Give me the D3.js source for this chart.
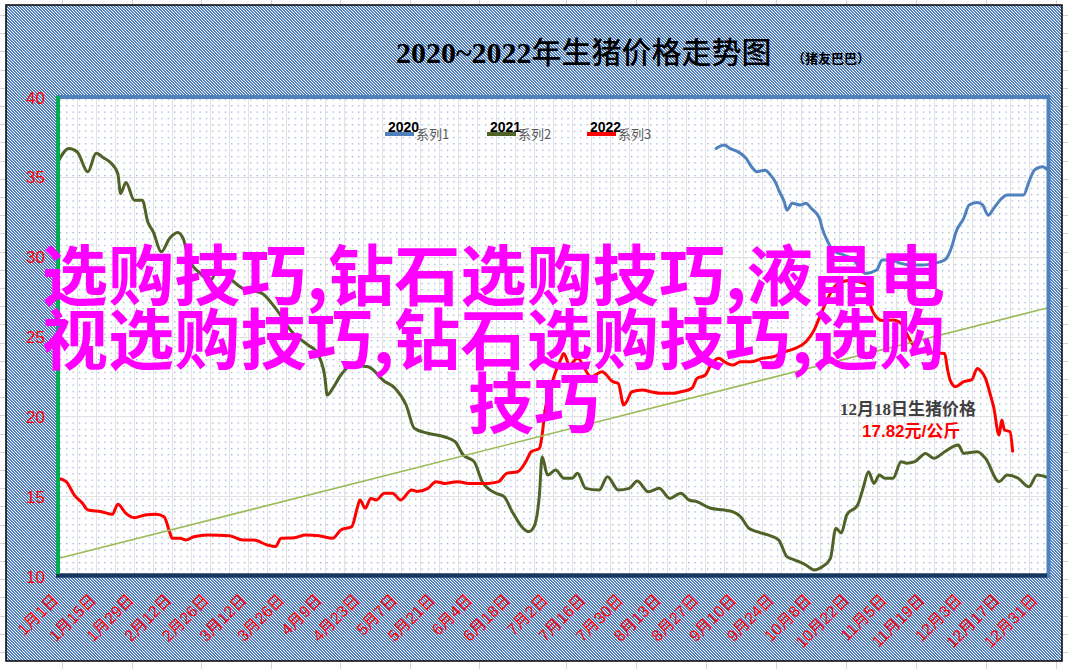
<!DOCTYPE html>
<html><head><meta charset="utf-8">
<script src="https://cdn.jsdelivr.net/npm/d3@7"></script>
<style>html,body{margin:0;padding:0;background:#fff;overflow:hidden}</style>
</head><body>
<svg id="c" width="1068" height="669"></svg>
<script>
// ---------- data ----------
const chartTitle = "2020~2022年生猪价格走势图";
const chartSubTitle = "（猪友巴巴）";
const seriesNames = ["2020", "2021", "2022"];
const seriesLegendNames = ["系列1", "系列2", "系列3"];
const seriesColors = ["#4f81bd", "#4f6228", "#ff0000"];

const yTicks = [10, 15, 20, 25, 30, 35, 40];
const xTickDays = [0,14,28,42,56,70,84,98,112,126,140,154,168,182,196,210,224,238,252,266,280,294,308,322,336,350,364];
const xTickLabels = ["1月1日","1月15日","1月29日","2月12日","2月26日","3月12日","3月26日","4月9日","4月23日","5月7日","5月21日","6月4日","6月18日","7月2日","7月16日","7月30日","8月13日","8月27日","9月10日","9月24日","10月8日","10月22日","11月5日","11月19日","12月3日","12月17日","12月31日"];

// 2020 (系列1) – day of year, price (元/公斤)
const days2020 = [242,245,247,250,253,255,257,260,262,264,265,267,268,270,273,275,277,280,281,283,285,289,292,297,301,303,306,310,313,318,322,326,329,330,333,335,338,340,342,344,347,349,353,355,357,359,362,364];
const vals2020 = [36.78,36.99,36.78,36.57,36.16,35.63,35.32,35.42,35.11,34.59,34.17,33.44,32.92,33.34,33.23,33.34,33.02,32.4,31.77,30.94,30.4,30.1,29.89,28.95,29.16,29.79,29.79,29.58,29.48,29.48,29.58,29.79,30.83,31.46,32.4,33.23,33.4,33.23,32.6,33.02,33.65,33.86,33.86,33.86,34.69,35.42,35.63,35.42];

// 2021 (系列2)
const days2021 = [0,4,7,11,14,17,19,22,23,25,28,31,33,35,38,41,44,46,48,52,56,59,61,68,75,80,86,92,95,98,99,101,104,108,114,120,124,128,131,136,142,146,149,153,156,161,164,167,171,173,175,177,178,180,183,186,189,191,194,199,202,206,210,213,217,221,225,229,232,235,240,245,248,251,254,257,261,265,268,271,275,278,281,284,286,288,290,294,296,298,300,302,304,307,310,312,315,319,322,326,331,333,338,341,346,349,353,357,360,364];
const vals2021 = [35.94,36.78,36.57,35.32,36.47,36.16,35.94,35.2,33.96,34.65,33.54,33.54,32.18,31.56,30.31,31.14,31.52,31.14,29.89,29.0,28.5,29.3,29.0,28.0,27.7,26.76,25.3,24.46,24.05,22.59,21.33,21.75,22.59,23.2,23.1,22.2,21.75,20.71,19.25,18.94,18.72,18.41,17.58,17.16,15.91,15.18,14.97,14.03,12.99,12.78,13.09,15.07,17.47,16.32,16.64,16.12,16.12,16.43,15.49,15.39,16.22,15.39,15.49,15.95,15.28,15.49,14.86,15.18,14.76,14.65,14.24,14.13,14.03,13.71,12.99,12.78,12.57,12.25,11.21,11.0,10.69,10.38,10.58,11.11,12.99,12.7,13.82,14.45,15.49,16.53,15.8,16.32,16.12,16.12,17.16,17.06,17.16,17.68,17.37,17.78,18.2,17.68,17.78,17.37,15.91,16.32,16.12,15.59,16.32,16.16];

// 2022 (系列3)
const days2022 = [0,3,6,9,11,16,20,22,25,28,32,36,39,41,42,45,47,50,55,63,68,72,77,80,82,87,91,96,101,104,108,110,111,113,115,117,120,123,126,130,132,136,139,142,147,151,155,158,162,165,169,172,174,177,178,179,181,183,185,186,188,191,196,200,204,206,208,209,211,215,218,222,226,229,233,235,238,240,243,245,248,251,255,259,263,267,271,275,278,280,286,291,297,299,301,303,307,310,312,314,316,321,326,327,328,330,333,336,338,339,341,343,344,346,347,348,350,351];
const vals2022 = [16.12,15.91,15.07,14.55,14.13,14.03,13.86,14.49,13.92,13.65,13.82,13.86,13.71,12.78,12.36,12.36,12.25,12.46,12.57,12.52,12.25,12.25,11.94,11.84,12.36,12.4,12.57,12.52,12.36,12.88,13.09,14.24,14.76,14.24,14.86,14.76,15.18,15.18,14.76,15.39,15.3,15.49,15.91,15.8,15.91,15.8,15.8,15.8,15.91,16.43,16.53,17.16,17.78,17.99,18.83,20.29,21.75,22.79,23.63,23.94,23.21,23.63,22.48,22.79,22.17,22.06,20.71,20.9,21.54,21.65,21.54,21.44,21.44,21.54,21.75,22.38,22.59,23.21,23.63,23.42,23.21,23.42,23.42,23.63,23.73,24.04,24.25,24.67,25.4,26.2,28.2,28.5,28.3,26.8,26.2,26.0,26.03,25.82,25.2,24.57,24.15,24.0,23.94,23.0,22.27,21.86,22.17,22.3,23.0,22.9,22.38,21.23,20.6,18.83,19.77,19.14,19.04,17.82];

// linear trend line (start/end values)
const trendDays = [0, 364];
const trendVals = [11.1, 26.8];

const noteTitle = "12月18日生猪价格";
const noteValue = "17.82元/公斤";
const watermarkLines = ["选购技巧,钻石选购技巧,液晶电", "视选购技巧,钻石选购技巧,选购", "技巧"];

// ---------- drawing ----------
const svg = d3.select("#c");
const P = {l: 58, t: 97, r: 1048, b: 576};
const x = d3.scaleLinear().domain([0, 364]).range([P.l, P.r]);
const xLab = d3.scaleLinear().domain([0, 364]).range([59, 1038]);
const y = d3.scaleLinear().domain([10, 40]).range([P.b, P.t]);

const defs = svg.append("defs");
const hatch = defs.append("pattern").attr("id", "hatch").attr("patternUnits", "userSpaceOnUse")
  .attr("width", 3).attr("height", 3);
hatch.append("rect").attr("width", 3).attr("height", 3).attr("fill", "#ffffff");
[0, 1, 2].forEach(k => {
  hatch.append("rect").attr("x", k).attr("y", k).attr("width", 1).attr("height", 1).attr("fill", "#4477bd");
  hatch.append("rect").attr("x", (k + 1) % 3).attr("y", k).attr("width", 1).attr("height", 1).attr("fill", "#4477bd").attr("opacity", 0.85);
});

const dotStep = (x(7) - x(0)) / 3;
const dots = defs.append("pattern").attr("id", "dots").attr("patternUnits", "userSpaceOnUse")
  .attr("x", P.l).attr("y", P.t).attr("width", dotStep).attr("height", dotStep);
dots.append("rect").attr("x", 2).attr("y", 2).attr("width", 1).attr("height", 1).attr("fill", "#4f73b8");

// spreadsheet background
svg.append("rect").attr("width", 1068).attr("height", 669).attr("fill", "#ffffff");
const cellG = svg.append("g").attr("stroke", "#d4d4d4").attr("stroke-width", 1);
d3.range(15, 669, 18.2).forEach(v => cellG.append("line").attr("x1", 0).attr("x2", 1068).attr("y1", Math.round(v) + 0.5).attr("y2", Math.round(v) + 0.5));
d3.range(62, 500, 69.5).concat(d3.range(566, 1068, 70)).forEach(v => cellG.append("line").attr("y1", 0).attr("y2", 669).attr("x1", Math.round(v) + 0.5).attr("x2", Math.round(v) + 0.5));

// chart area
svg.append("rect").attr("x", 6).attr("y", 5).attr("width", 1056).attr("height", 656)
  .attr("fill", "url(#hatch)").attr("stroke", "#000").attr("stroke-width", 1.5);

// plot area
svg.append("rect").attr("x", P.l).attr("y", P.t).attr("width", P.r - P.l).attr("height", P.b - P.t).attr("fill", "#fff");
svg.append("rect").attr("x", P.l).attr("y", P.t).attr("width", P.r - P.l).attr("height", P.b - P.t).attr("fill", "url(#dots)");

const grid = svg.append("g").attr("stroke", "#e2e2e2").attr("stroke-width", 1);
d3.range(7, 364, 7).forEach(d => grid.append("line").attr("x1", Math.round(x(d)) + 0.5).attr("x2", Math.round(x(d)) + 0.5).attr("y1", P.t).attr("y2", P.b));
yTicks.slice(1, -1).forEach(v => grid.append("line").attr("y1", Math.round(y(v)) + 0.5).attr("y2", Math.round(y(v)) + 0.5).attr("x1", P.l).attr("x2", P.r));

// series
const line = d3.line().x(d => x(d[0])).y(d => y(d[1])).curve(d3.curveMonotoneX);
const series = [d3.zip(days2020, vals2020), d3.zip(days2021, vals2021), d3.zip(days2022, vals2022)];
const order = [1, 0, 2];
order.forEach(i => {
  svg.append("path").datum(series[i]).attr("d", line).attr("fill", "none")
    .attr("stroke", seriesColors[i]).attr("stroke-width", 3).attr("stroke-linejoin", "round").attr("stroke-linecap", "round");
});

// trend line
svg.append("path").datum(d3.zip(trendDays, trendVals)).attr("d", d3.line().x(d => x(d[0])).y(d => y(d[1])))
  .attr("stroke", "#9bbb59").attr("stroke-width", 1.6).attr("fill", "none");

// plot borders
svg.append("line").attr("x1", P.l - 1).attr("x2", P.r + 2).attr("y1", P.t).attr("y2", P.t).attr("stroke", "#4f81bd").attr("stroke-width", 4);
svg.append("line").attr("x1", P.r + 0.5).attr("x2", P.r + 0.5).attr("y1", P.t - 2).attr("y2", P.b + 2).attr("stroke", "#4f81bd").attr("stroke-width", 4);
svg.append("line").attr("x1", P.l - 2).attr("x2", P.r - 1).attr("y1", P.b - 0.5).attr("y2", P.b - 0.5).attr("stroke", "#17375e").attr("stroke-width", 4.5);
svg.append("line").attr("x1", P.l).attr("x2", P.l).attr("y1", P.t - 1).attr("y2", P.b - 2).attr("stroke", "#00b050").attr("stroke-width", 4);

// y axis labels
const yAxis = d3.axisLeft(y).tickValues(yTicks).tickSize(0).tickPadding(0);
const yg = svg.append("g").attr("transform", `translate(${45},0)`).call(yAxis);
yg.select(".domain").remove();
yg.selectAll("text").attr("fill", "#ff0000").attr("font-size", 17).attr("font-family", "Liberation Sans, Arial, sans-serif").attr("dy", "0.36em");

// x axis labels
const xAxis = d3.axisBottom(xLab).tickValues(xTickDays).tickFormat((d, i) => xTickLabels[i]).tickSize(0).tickPadding(0);
const xg = svg.append("g").attr("transform", `translate(0,${601})`).call(xAxis);
xg.select(".domain").remove();
xg.selectAll("text").attr("fill", "#ff0000").attr("font-size", 16)
  .attr("font-family", "Liberation Sans, Noto Sans CJK SC, sans-serif")
  .attr("text-anchor", "end").attr("dy", 0).attr("y", 0).attr("transform", "rotate(-45)");

// title
const t = svg.append("text").attr("x", 396).attr("y", 63).attr("fill", "#000").attr("font-size", 30);
t.append("tspan").attr("font-family", "Liberation Serif, DejaVu Serif, serif").attr("font-weight", "bold").text(chartTitle.slice(0, 9));
t.append("tspan").attr("font-family", "Noto Sans CJK SC, sans-serif").attr("font-weight", 500).text(chartTitle.slice(9));
svg.append("text").attr("x", 792).attr("y", 63).attr("font-size", 13).attr("font-weight", "bold")
  .attr("font-family", "Noto Sans CJK SC, sans-serif").attr("fill", "#000").text(chartSubTitle);

// legend
const legX = [385, 487, 587];
seriesNames.forEach((n, i) => {
  const g = svg.append("g").attr("transform", `translate(${legX[i]},0)`);
  g.append("line").attr("x1", 0).attr("x2", 29).attr("y1", 134).attr("y2", 134).attr("stroke", seriesColors[i]).attr("stroke-width", 4);
  g.append("text").attr("x", 3).attr("y", 132).attr("font-size", 14).attr("font-weight", "bold")
    .attr("font-family", "Liberation Sans, Arial, sans-serif").attr("fill", "#000").text(n);
  g.append("text").attr("x", 31).attr("y", 139).attr("font-size", 13)
    .attr("font-family", "Noto Sans CJK SC, sans-serif").attr("fill", "#595959").text(seriesLegendNames[i]);
});

// annotation
svg.append("text").attr("x", 840).attr("y", 415).attr("font-size", 17).attr("font-weight", "bold")
  .attr("font-family", "Liberation Serif, Noto Sans CJK SC, serif").attr("fill", "#404040").text(noteTitle);
svg.append("text").attr("x", 862).attr("y", 437).attr("font-size", 17).attr("font-weight", "bold")
  .attr("font-family", "Liberation Sans, Noto Sans CJK SC, sans-serif").attr("fill", "#ff0000").text(noteValue);

// watermark
const wm = [[42, 300, 903], [42, 364, 903], [468, 428, 0]];
watermarkLines.forEach((s, i) => {
  const tx = svg.append("text").attr("x", wm[i][0]).attr("y", wm[i][1]).attr("font-size", 66).attr("font-weight", "bold")
    .attr("font-family", "Noto Sans CJK SC, sans-serif").attr("fill", "#ff00ff").text(s);
  if (wm[i][2]) tx.attr("textLength", wm[i][2]).attr("lengthAdjust", "spacing");
});
</script>
</body></html>
